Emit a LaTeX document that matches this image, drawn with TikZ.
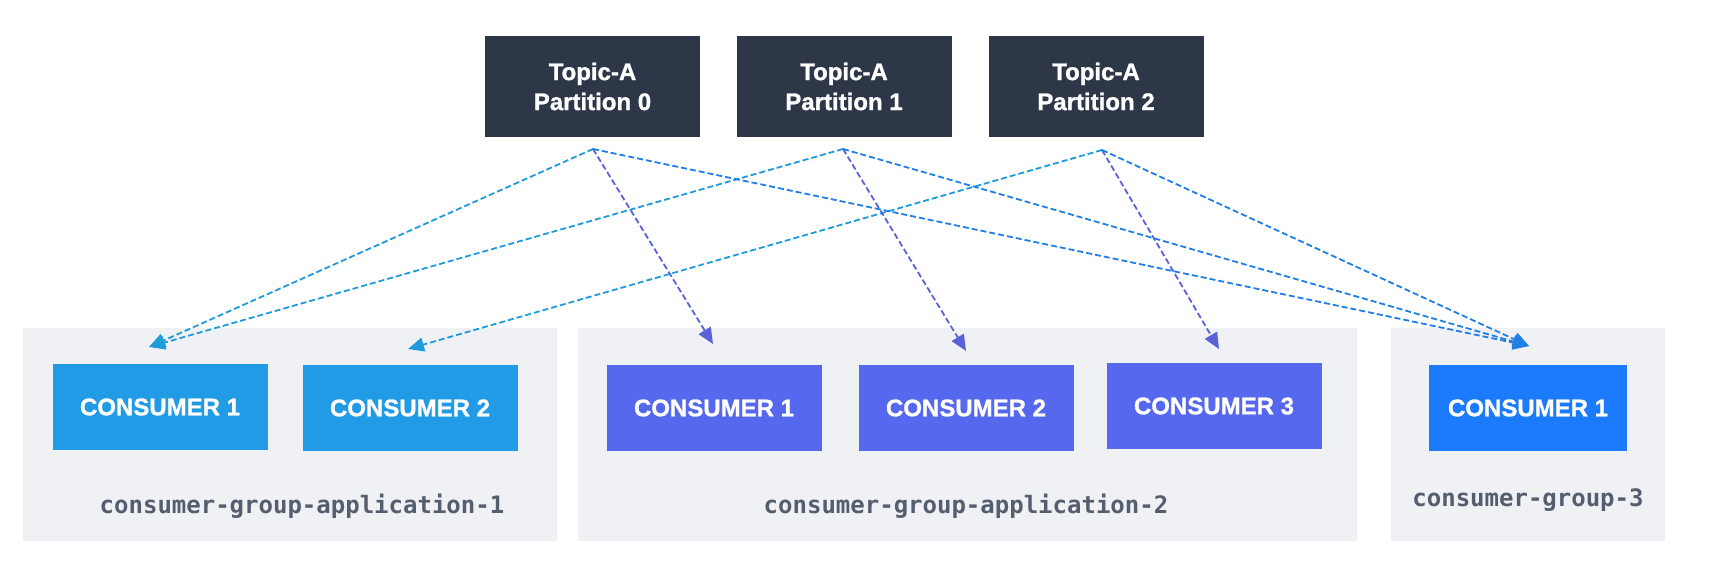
\documentclass[tikz,border=0pt]{standalone}
\usepackage{fontspec}
\setmainfont{Liberation Sans}[BoldFeatures={FakeBold=1.2}]
\newfontfamily\monof{DejaVu Sans Mono}
\usetikzlibrary{arrows.meta}
\definecolor{topicc}{HTML}{2E3748}
\definecolor{gonec}{HTML}{229BE6}
\definecolor{gtwoc}{HTML}{5568EE}
\definecolor{gthreec}{HTML}{1C7BFD}
\definecolor{groupbg}{HTML}{F0F1F4}
\definecolor{labelc}{HTML}{545E6E}
\definecolor{lineone}{HTML}{1E9BDB}
\definecolor{linetwo}{HTML}{5A62D8}
\definecolor{linethree}{HTML}{1F7FE6}
\tikzset{
  topicbox/.style={fill=topicc, text=white, minimum width=215pt, minimum height=101pt,
    inner sep=0pt, align=center, font=\fontsize{24}{30}\selectfont\bfseries},
  consbox/.style={minimum width=215pt, minimum height=86pt, inner sep=0pt, text=white,
    font=\fontsize{24}{28}\selectfont\bfseries},
  groupbox/.style={fill=groupbg, draw=none},
  grouplabel/.style={text=labelc, font=\monof\fontsize{24}{28}\selectfont\bfseries, anchor=base, inner sep=0pt},
  flow/.style={dashed, dash pattern=on 6pt off 3pt, line width=1.8pt,
    -{Triangle[length=16pt, width=14pt]}},
}
\begin{document}
\begin{tikzpicture}[x=1pt, y=-1pt]
\useasboundingbox (0,0) rectangle (1722,577);
% groups
\fill[groupbg] (23,328) rectangle (557,541);
\fill[groupbg] (578,328) rectangle (1357,541);
\fill[groupbg] (1391,328) rectangle (1665,541);
\node[grouplabel] (l1) at (302,513) {consumer-group-application-1};
\node[grouplabel] (l2) at (966,513) {consumer-group-application-2};
\node[grouplabel] (l3) at (1528,506) {consumer-group-3};
% topics
\node[topicbox] (p0) at (592.5,86.5) {Topic-A\\Partition 0};
\node[topicbox] (p1) at (844,86.5) {Topic-A\\Partition 1};
\node[topicbox] (p2) at (1096,86.5) {Topic-A\\Partition 2};
% consumers
\node[consbox, fill=gonec] (a1) at (160,407) {CONSUMER 1};
\node[consbox, fill=gonec] (a2) at (410,408) {CONSUMER 2};
\node[consbox, fill=gtwoc] (b1) at (714,408) {CONSUMER 1};
\node[consbox, fill=gtwoc] (b2) at (966,408) {CONSUMER 2};
\node[consbox, fill=gtwoc] (b3) at (1214,406) {CONSUMER 3};
\node[consbox, fill=gthreec, minimum width=198pt] (c1) at (1528,408) {CONSUMER 1};
% anchor coordinates
\coordinate (s0) at (593,149);
\coordinate (s1) at (843,149);
\coordinate (s2) at (1102,150);
\coordinate (ta1) at (149,347);
\coordinate (ta2) at (408,349);
\coordinate (tb1) at (713,344);
\coordinate (tb2) at (966,351);
\coordinate (tb3) at (1219,349);
\coordinate (tc1) at (1529,346);
% flows
\draw[flow, lineone] (s0) -- (ta1);
\draw[flow, lineone] (s1) -- (ta1);
\draw[flow, lineone] (s2) -- (ta2);
\draw[flow, linetwo] (s0) -- (tb1);
\draw[flow, linetwo] (s1) -- (tb2);
\draw[flow, linetwo] (s2) -- (tb3);
\draw[flow, linethree] (s0) -- (tc1);
\draw[flow, linethree] (s1) -- (tc1);
\draw[flow, linethree] (s2) -- (tc1);
\end{tikzpicture}
\end{document}
